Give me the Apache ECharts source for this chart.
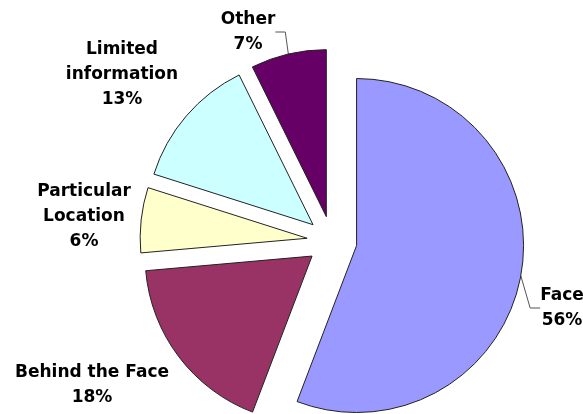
<!DOCTYPE html>
<html>
<head>
<meta charset="utf-8">
<script src="https://cdn.jsdelivr.net/npm/echarts@6/dist/echarts.min.js"></script>
<style>
html,body{margin:0;padding:0;background:#fff;}
#chart{width:583px;height:414px;}
</style>
</head>
<body>
<div id="chart"></div>
<script>
var categories = ['Face', 'Behind the Face', 'Particular\nLocation', 'Limited\ninformation', 'Other'];
// slice shares
var values = [55.8, 17.8, 6.3, 12.8, 7.3];
// percentages as printed on the chart
var percentLabels = ['56%', '18%', '6%', '13%', '7%'];
var colors = ['#9999FF', '#993366', '#FFFFCC', '#CCFFFF', '#660066'];
var showLeader = [true, false, false, false, true];
// label anchor positions (layout only)
var labelPos = [[562, 308], [92, 385], [84, 217], [122, 75], [248, 32]];

var CX = 332, CY = 241, R = 167, EXPLODE = 25;
var total = values.reduce(function (a, b) { return a + b; }, 0);

var chart = echarts.init(document.getElementById('chart'));
var series = [];
var cum = 0;
values.forEach(function (v, k) {
  var mid = (cum + v / 2) / total * 2 * Math.PI;
  cum += v;
  var cx = CX + EXPLODE * Math.sin(mid);
  var cy = CY - EXPLODE * Math.cos(mid);
  var data = categories.map(function (c, i) {
    var on = i === k;
    return {
      name: c,
      value: values[i],
      itemStyle: on ? { color: colors[i], borderColor: '#222', borderWidth: 1 }
                    : { color: 'rgba(0,0,0,0)', borderWidth: 0 },
      label: { show: on },
      labelLine: { show: on && showLeader[i] }
    };
  });
  series.push({
    type: 'pie',
    center: [cx, cy],
    radius: [0, R],
    startAngle: 90,
    clockwise: true,
    silent: true,
    avoidLabelOverlap: false,
    data: data,
    label: {
      formatter: function (p) { return p.name + '\n' + percentLabels[p.dataIndex]; },
      fontFamily: 'DejaVu Sans',
      fontWeight: 'bold',
      fontSize: 17,
      lineHeight: 25,
      color: '#000',
      align: 'center'
    },
    labelLine: {
      length: 10,
      length2: 10,
      lineStyle: { color: '#555', width: 1 }
    },
    labelLayout: function (params) {
      var p = labelPos[params.dataIndex];
      return { x: p[0], y: p[1], align: 'center', verticalAlign: 'middle' };
    }
  });
});

chart.setOption({
  animation: false,
  backgroundColor: '#fff',
  series: series
});
</script>
</body>
</html>
